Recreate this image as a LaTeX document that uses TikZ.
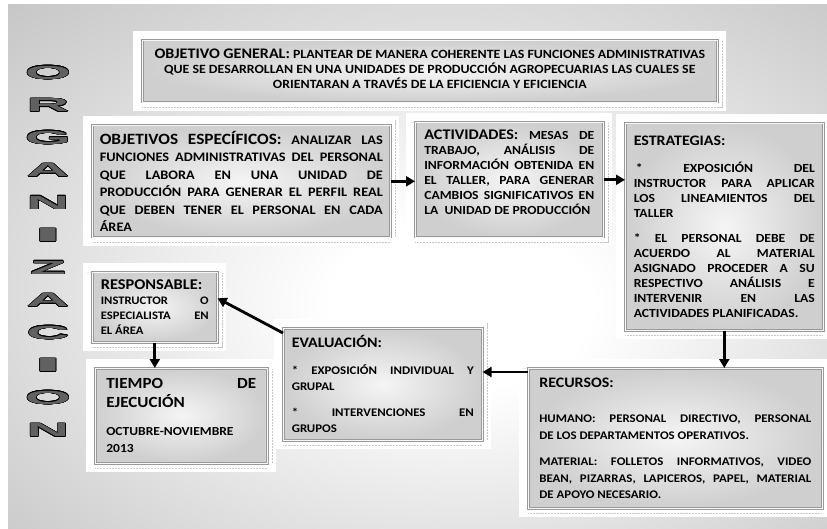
\documentclass[tikz,border=0pt]{standalone}
\usepackage{fontspec}
\setmainfont{Carlito}[FakeStretch=1.1]
\newfontfamily\letrafont{Liberation Sans}[FakeStretch=3.1]
\newfontfamily\letrafontI{Liberation Sans}[FakeStretch=5.6]
\usepackage{contour}
\contourlength{0.6pt}
\usetikzlibrary{arrows.meta}

\pgfdeclareradialshading{fondo}{\pgfpoint{3bp}{-4bp}}{color(0bp)=(white); color(8bp)=(white); color(35bp)=(black!20); color(55bp)=(black!34); color(75bp)=(black!40)}

\newcommand{\renglon}[1]{\makebox[\hsize][s]{\spaceskip=.23em plus 1fil\relax #1}}
\newcommand{\titulo}[2]{{\fontsize{#1}{#1}\selectfont #2}}
\newcommand{\cuerpo}[2]{\bfseries\fontsize{#1}{#2}\selectfont}

\tikzset{
  caja/.style={rectangle, anchor=north west, inner sep=0pt, align=flush left,
    draw=black!40, line width=0.6pt, double=black!3, double distance=1.2pt,
    shade, inner color=black!4, outer color=black!19,
    preaction={draw=white, line width=18pt},
    preaction={draw=black!22, densely dotted, line width=0.5pt, double=white, double distance=10pt}},
  flecha/.style={-{Triangle[length=9pt,width=10pt]}, line width=2.8pt, black},
  letra/.style={inner sep=0pt, text=black!62, font=\letrafont\bfseries\fontsize{19}{19}\selectfont}
}

\begin{document}
\begin{tikzpicture}[x=1pt, y=-1pt]
  \useasboundingbox (0,0) rectangle (827,529);
  \fill[white] (0,0) rectangle (827,529);
  \shade[shading=fondo] (8,5) rectangle (827,529);

  % palabra vertical
  \foreach \ch/\fnt [count=\i] in {O/\letrafont, R/\letrafont, G/\letrafont, A/\letrafont,
      N/\letrafont, I/\letrafontI, Z/\letrafont, A/\letrafont, C/\letrafont, I/\letrafontI,
      O/\letrafont, N/\letrafont}
    \node[letra] (l\i) at (48, {73+(\i-1)*32.5}) {\fnt\contour{black}{\ch}};

  % cajas
  \node[caja, minimum width=575pt, minimum height=62pt, text width=565pt, align=flush center,
    font=\cuerpo{12.6}{15}] (general) at (142,40)
    {\titulo{14.6}{OBJETIVO GENERAL:} PLANTEAR DE MANERA COHERENTE LAS FUNCIONES ADMINISTRATIVAS\\
     QUE SE DESARROLLAN EN UNA UNIDADES DE PRODUCCIÓN AGROPECUARIAS LAS CUALES SE\\
     ORIENTARAN A TRAVÉS DE LA EFICIENCIA Y EFICIENCIA\\[-9pt]\mbox{}};

  \node[caja, minimum width=298pt, minimum height=112pt, text width=283pt,
    font=\cuerpo{13}{17.5}] (especificos) at (92,125)
    {\renglon{\titulo{15.7}{OBJETIVOS ESPECÍFICOS:} ANALIZAR LAS}\\
     \renglon{FUNCIONES ADMINISTRATIVAS DEL PERSONAL}\\
     \renglon{QUE LABORA EN UNA UNIDAD DE}\\
     \renglon{PRODUCCIÓN PARA GENERAR EL PERFIL REAL}\\
     \renglon{QUE DEBEN TENER EL PERSONAL EN CADA}\\
     ÁREA};

  \node[caja, minimum width=188pt, minimum height=115pt, text width=170pt,
    font=\cuerpo{12.4}{15}] (actividades) at (415,122)
    {\renglon{\titulo{14.7}{ACTIVIDADES:} MESAS DE}\\
     \renglon{TRABAJO, ANÁLISIS DE}\\
     \renglon{INFORMACIÓN OBTENIDA EN}\\
     \renglon{EL TALLER, PARA GENERAR}\\
     \renglon{CAMBIOS SIGNIFICATIVOS EN}\\
     \mbox{LA~ UNIDAD DE PRODUCCIÓN}\\[1pt]\mbox{}};

  \node[caja, minimum width=198pt, minimum height=207pt, text width=181pt,
    font=\cuerpo{12.4}{15}] (estrategias) at (625,123)
    {\titulo{14.5}{ESTRATEGIAS:}\\[12pt]
     \renglon{\hspace*{2pt}* EXPOSICIÓN DEL}\\
     \renglon{INSTRUCTOR PARA APLICAR}\\
     \renglon{LOS LINEAMIENTOS DEL}\\
     TALLER\\[10pt]
     \renglon{* EL PERSONAL DEBE DE}\\
     \renglon{ACUERDO AL MATERIAL}\\
     \renglon{ASIGNADO PROCEDER A SU}\\
     \renglon{RESPECTIVO ANÁLISIS E}\\
     \renglon{INTERVENIR EN LAS}\\
     ACTIVIDADES PLANIFICADAS.};

  \node[caja, minimum width=294pt, minimum height=140pt, text width=272pt,
    font=\cuerpo{11.7}{16.5}] (recursos) at (528,368)
    {\titulo{14.5}{RECURSOS:}\\[19pt]
     \renglon{HUMANO: PERSONAL DIRECTIVO, PERSONAL}\\
     DE LOS DEPARTAMENTOS OPERATIVOS.\\[10pt]
     \renglon{MATERIAL: FOLLETOS INFORMATIVOS, VIDEO}\\
     \renglon{BEAN, PIZARRAS, LAPICEROS, PAPEL, MATERIAL}\\
     DE APOYO NECESARIO.};

  \node[caja, minimum width=199pt, minimum height=112pt, text width=182pt,
    font=\cuerpo{11.7}{16}] (evaluacion) at (283,328)
    {\titulo{14.5}{EVALUACIÓN:}\\[11pt]
     \renglon{* EXPOSICIÓN INDIVIDUAL Y}\\
     GRUPAL\\[10pt]
     \renglon{* INTERVENCIONES EN}\\
     GRUPOS};

  \node[caja, minimum width=125pt, minimum height=70pt, text width=108pt,
    font=\cuerpo{11.5}{15}] (responsable) at (92,272)
    {\titulo{14.9}{RESPONSABLE:}\\
     \renglon{INSTRUCTOR O}\\
     \renglon{ESPECIALISTA EN}\\
     EL ÁREA};

  \node[caja, minimum width=172pt, minimum height=95pt, text width=150pt,
    font=\cuerpo{12.3}{17}] (tiempo) at (95,368)
    {\renglon{\titulo{15.5}{TIEMPO DE}}\\[2pt]
     \titulo{15.5}{EJECUCIÓN}\\[11pt]
     OCTUBRE-NOVIEMBRE\\
     2013};

  % flechas
  \draw[flecha] (especificos.east) -- (especificos.east -| actividades.west);
  \draw[flecha] (actividades.east) -- (actividades.east -| estrategias.west);
  \draw[flecha] (estrategias.south) -- (estrategias.south |- recursos.north);
  \draw[flecha] ([yshift=-4pt]recursos.north west) -- ([yshift=-4pt]recursos.north west -| evaluacion.east);
  \draw[flecha] ([yshift=-5pt]evaluacion.north west) -- ([yshift=9pt]responsable.east);
  \draw[flecha] (responsable.south) -- (responsable.south |- tiempo.north);
\end{tikzpicture}
\end{document}
